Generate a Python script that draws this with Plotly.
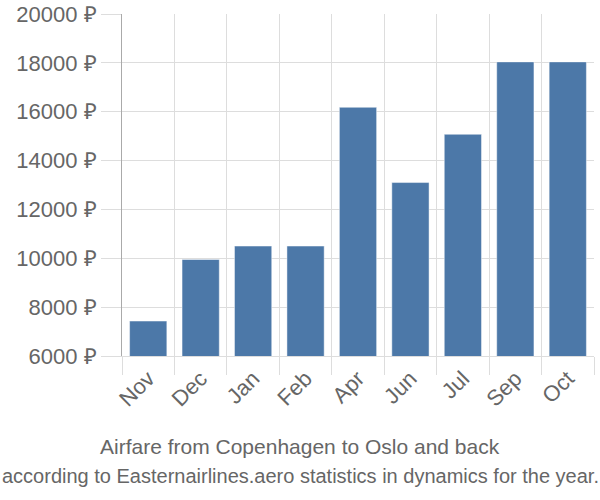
import plotly.graph_objects as go

months = ["Nov", "Dec", "Jan", "Feb", "Apr", "Jun", "Jul", "Sep", "Oct"]
prices = [7430, 9950, 10500, 10500, 16180, 13100, 15075, 18040, 18040]
y_ticks = [6000, 8000, 10000, 12000, 14000, 16000, 18000, 20000]
title_line1 = "Airfare from Copenhagen to Oslo and back"
title_line2 = "according to Easternairlines.aero statistics in dynamics for the year."

fig = go.Figure()
fig.add_trace(go.Bar(
    x=months, y=prices,
    marker=dict(color="#4c78a8", line=dict(color="rgba(255,255,255,0.45)", width=1)),
))

font_family = "Liberation Sans, Arial, sans-serif"
plot_w = 600 - 122 - 6
plot_h = 500 - 14 - 144


def ypix(p):
    return (500 - 144 - p) / plot_h


cx = (300 - 122) / plot_w

fig.update_layout(
    width=600, height=500,
    margin=dict(l=122, r=6, t=14, b=144, autoexpand=False),
    paper_bgcolor="white", plot_bgcolor="white",
    bargap=0.29,
    showlegend=False,
    font=dict(family=font_family, color="#666666"),
    xaxis=dict(
        type="category",
        tickson="boundaries",
        automargin=False,
        ticks="outside", ticklen=18, tickcolor="#dddddd", tickwidth=1,
        showgrid=True, gridcolor="#dddddd", gridwidth=1,
        showline=True, linecolor="#dddddd", linewidth=1,
        tickangle=-45,
        tickfont=dict(size=22, color="#666666"),
    ),
    yaxis=dict(
        range=[6000, 20000],
        automargin=False,
        tickvals=y_ticks,
        ticktext=[f"{v} ₽" for v in y_ticks],
        ticks="outside", ticklen=20, tickcolor="#dddddd", tickwidth=1,
        showgrid=True, gridcolor="#dddddd", gridwidth=1,
        showline=True, linecolor="#aaaaaa", linewidth=1,
        zeroline=False,
        tickfont=dict(size=22, color="#666666"),
    ),
    annotations=[
        dict(text=title_line1, x=cx, xref="paper", y=ypix(446), yref="paper",
             xanchor="center", yanchor="middle",
             showarrow=False, font=dict(size=21, color="#666666")),
        dict(text=title_line2, x=cx, xref="paper", y=ypix(476), yref="paper",
             xanchor="center", yanchor="middle",
             showarrow=False, font=dict(size=20, color="#666666")),
    ],
)

fig.write_html("out.html")
